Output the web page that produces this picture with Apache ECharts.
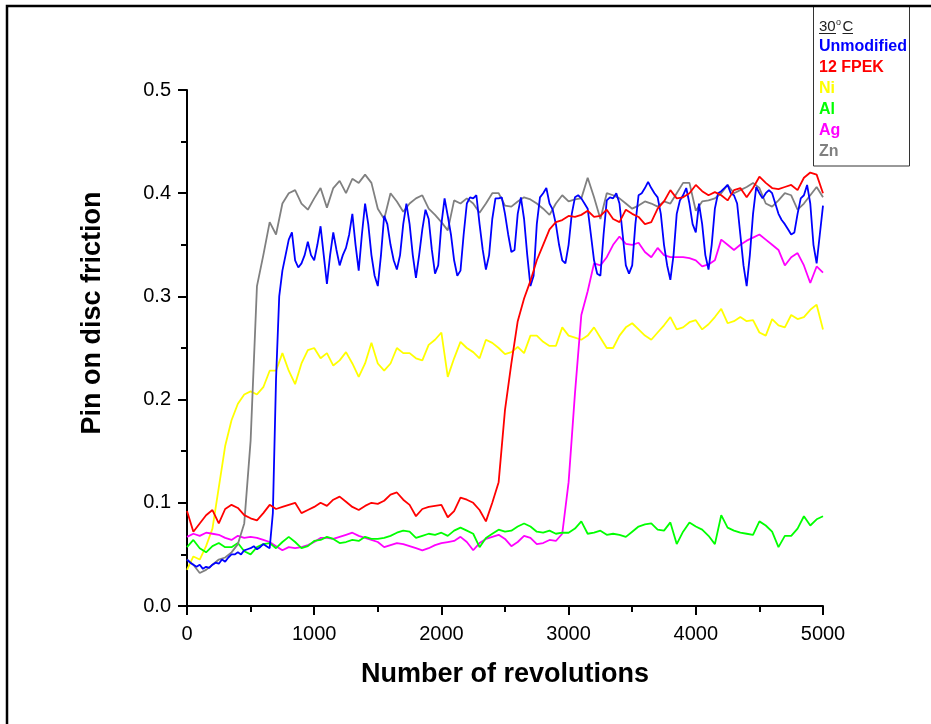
<!DOCTYPE html>
<html>
<head>
<meta charset="utf-8">
<script src="https://cdn.jsdelivr.net/npm/echarts@6/dist/echarts.min.js"></script>
<style>
html,body{margin:0;padding:0;background:#fff;}
#chart{width:931px;height:724px;}
</style>
</head>
<body>
<div id="chart"></div>
<script>
// Sampling grids (revolutions)
const revs25 = []; for (let r = 0; r <= 5000; r += 25) revs25.push(r);
const revs50 = []; for (let r = 0; r <= 5000; r += 50) revs50.push(r);

const xTicks = [0, 1000, 2000, 3000, 4000, 5000];
const yTicks = [0.0, 0.1, 0.2, 0.3, 0.4, 0.5];

// Unmodified (blue), sampled every 25 revolutions
const unmodified = [
 0.045,0.042,0.040,0.038,0.040,0.036,0.038,0.037,0.040,0.042,
 0.041,0.045,0.043,0.047,0.050,0.050,0.052,0.050,0.054,0.055,
 0.056,0.058,0.055,0.057,0.060,0.058,0.056,0.090,0.220,0.300,
 0.325,0.340,0.355,0.362,0.335,0.328,0.332,0.340,0.353,0.340,
 0.335,0.350,0.368,0.340,0.312,0.340,0.362,0.345,0.330,0.340,
 0.347,0.360,0.380,0.350,0.325,0.360,0.390,0.370,0.340,0.320,
 0.310,0.340,0.378,0.370,0.350,0.335,0.326,0.340,0.370,0.390,
 0.370,0.340,0.318,0.340,0.365,0.384,0.375,0.345,0.322,0.330,
 0.370,0.395,0.378,0.360,0.335,0.320,0.325,0.360,0.390,0.396,
 0.395,0.398,0.370,0.345,0.326,0.340,0.375,0.395,0.395,0.396,
 0.380,0.360,0.343,0.345,0.380,0.396,0.375,0.340,0.310,0.320,
 0.370,0.396,0.400,0.405,0.390,0.384,0.370,0.350,0.335,0.332,
 0.350,0.380,0.396,0.398,0.395,0.390,0.385,0.360,0.335,0.322,
 0.320,0.360,0.393,0.396,0.395,0.400,0.390,0.360,0.330,0.322,
 0.330,0.370,0.398,0.400,0.405,0.411,0.405,0.400,0.396,0.380,
 0.350,0.330,0.316,0.340,0.380,0.393,0.398,0.405,0.390,0.370,
 0.362,0.390,0.370,0.340,0.326,0.350,0.385,0.400,0.402,0.405,
 0.408,0.400,0.398,0.390,0.360,0.330,0.310,0.340,0.380,0.406,
 0.400,0.395,0.400,0.403,0.400,0.390,0.380,0.374,0.370,0.365,
 0.360,0.362,0.380,0.395,0.398,0.408,0.390,0.350,0.332,0.360,
 0.388
];

// Remaining series, sampled every 50 revolutions
const fpek12 = [
 0.092,0.072,0.080,0.088,0.093,0.080,0.094,0.098,0.095,0.088,
 0.085,0.083,0.090,0.098,0.094,0.096,0.098,0.100,0.090,0.093,
 0.096,0.100,0.097,0.103,0.106,0.101,0.096,0.093,0.097,0.100,
 0.099,0.102,0.108,0.110,0.103,0.098,0.087,0.094,0.096,0.097,
 0.098,0.086,0.092,0.105,0.103,0.100,0.093,0.082,0.100,0.120,
 0.190,0.235,0.276,0.298,0.315,0.335,0.350,0.365,0.372,0.374,
 0.378,0.377,0.379,0.383,0.377,0.378,0.384,0.375,0.372,0.384,
 0.380,0.377,0.370,0.372,0.385,0.392,0.403,0.395,0.396,0.400,
 0.408,0.402,0.398,0.401,0.398,0.393,0.403,0.405,0.396,0.405,
 0.416,0.410,0.405,0.404,0.406,0.408,0.403,0.415,0.420,0.418,
 0.400
];
const ni = [
 0.035,0.048,0.045,0.058,0.075,0.115,0.155,0.180,0.196,0.205,
 0.208,0.205,0.212,0.228,0.228,0.245,0.228,0.215,0.235,0.248,
 0.250,0.240,0.245,0.233,0.238,0.246,0.235,0.222,0.235,0.255,
 0.235,0.228,0.235,0.250,0.245,0.245,0.240,0.238,0.253,0.258,
 0.265,0.222,0.240,0.256,0.250,0.246,0.240,0.258,0.255,0.250,
 0.244,0.246,0.251,0.245,0.262,0.262,0.256,0.252,0.252,0.270,
 0.262,0.260,0.258,0.262,0.270,0.260,0.250,0.250,0.262,0.270,
 0.274,0.268,0.262,0.258,0.265,0.272,0.280,0.268,0.270,0.275,
 0.277,0.268,0.273,0.280,0.288,0.274,0.276,0.280,0.276,0.277,
 0.265,0.262,0.278,0.272,0.270,0.282,0.278,0.280,0.287,0.292,
 0.268
];
const al = [
 0.057,0.064,0.056,0.052,0.058,0.061,0.057,0.057,0.061,0.053,
 0.050,0.057,0.060,0.061,0.056,0.062,0.067,0.062,0.056,0.058,
 0.063,0.064,0.067,0.065,0.061,0.062,0.064,0.063,0.067,0.065,
 0.065,0.066,0.068,0.071,0.073,0.072,0.066,0.068,0.070,0.069,
 0.071,0.068,0.073,0.076,0.073,0.070,0.057,0.066,0.070,0.074,
 0.072,0.073,0.077,0.080,0.077,0.072,0.071,0.073,0.070,0.071,
 0.071,0.075,0.082,0.070,0.071,0.073,0.069,0.070,0.069,0.067,
 0.072,0.077,0.079,0.080,0.074,0.073,0.081,0.060,0.072,0.081,
 0.077,0.074,0.068,0.060,0.088,0.076,0.073,0.071,0.070,0.069,
 0.082,0.078,0.072,0.057,0.068,0.068,0.075,0.087,0.078,0.084,
 0.087
];
const ag = [
 0.067,0.070,0.068,0.071,0.070,0.069,0.066,0.064,0.068,0.066,
 0.067,0.066,0.064,0.062,0.058,0.054,0.057,0.056,0.057,0.059,
 0.062,0.066,0.066,0.065,0.067,0.069,0.071,0.068,0.066,0.064,
 0.062,0.057,0.059,0.061,0.060,0.058,0.056,0.054,0.056,0.059,
 0.061,0.062,0.063,0.067,0.062,0.054,0.061,0.065,0.067,0.069,
 0.065,0.058,0.062,0.068,0.066,0.060,0.061,0.064,0.063,0.070,
 0.120,0.206,0.282,0.305,0.332,0.330,0.338,0.350,0.358,0.351,
 0.350,0.352,0.343,0.338,0.347,0.340,0.338,0.338,0.338,0.337,
 0.335,0.329,0.331,0.335,0.355,0.350,0.345,0.350,0.354,0.357,
 0.360,0.355,0.350,0.345,0.330,0.338,0.342,0.330,0.313,0.329,
 0.323
];
const zn = [
 0.045,0.040,0.032,0.035,0.040,0.045,0.047,0.052,0.060,0.080,
 0.160,0.310,0.340,0.372,0.360,0.390,0.400,0.403,0.390,0.384,
 0.395,0.405,0.386,0.405,0.412,0.400,0.414,0.410,0.418,0.410,
 0.385,0.375,0.400,0.392,0.382,0.390,0.395,0.398,0.385,0.379,
 0.372,0.364,0.393,0.390,0.395,0.390,0.381,0.390,0.400,0.400,
 0.388,0.387,0.392,0.396,0.394,0.390,0.385,0.379,0.390,0.398,
 0.392,0.394,0.395,0.415,0.396,0.375,0.400,0.398,0.395,0.390,
 0.385,0.388,0.392,0.390,0.387,0.392,0.390,0.400,0.410,0.410,
 0.383,0.392,0.393,0.395,0.400,0.408,0.400,0.403,0.406,0.410,
 0.405,0.390,0.387,0.393,0.400,0.398,0.384,0.390,0.398,0.406,
 0.396
];

const seriesNames = ['Unmodified', '12 FPEK', 'Ni', 'Al', 'Ag', 'Zn'];
const seriesColors = ['#0000FF', '#FF0000', '#FFFF00', '#00FF00', '#FF00FF', '#808080'];
const xTitle = 'Number of revolutions';
const yTitle = 'Pin on disc friction';

function pairs(xs, ys) { return xs.map((x, i) => [x, ys[i]]); }

const FONT = '"Liberation Sans", Arial, sans-serif';
const chart = echarts.init(document.getElementById('chart'), null, {renderer: 'canvas'});

const lineSeries = (name, color, data) => ({
  name, type: 'line', data, showSymbol: false, symbol: 'none', smooth: false,
  lineStyle: {color, width: 1.8}, itemStyle: {color}, animation: false, z: 3
});

const option = {
  backgroundColor: '#fff',
  animation: false,
  grid: {left: 187, top: 90, width: 636, height: 516, containLabel: false},
  xAxis: {
    type: 'value', min: 0, max: 5000, interval: 1000,
    name: xTitle, nameLocation: 'middle', nameGap: 55,
    nameTextStyle: {fontSize: 27, fontWeight: 'bold', color: '#000', fontFamily: FONT},
    axisLine: {show: true, onZero: false, lineStyle: {color: '#000', width: 2}},
    axisTick: {show: true, inside: false, length: 9, lineStyle: {color: '#000', width: 2}},
    minorTick: {show: true, splitNumber: 2, length: 6, lineStyle: {color: '#000', width: 2}},
    splitLine: {show: false},
    axisLabel: {fontSize: 20, color: '#000', fontFamily: FONT, margin: 18,
      formatter: v => xTicks.includes(v) ? String(v) : ''}
  },
  yAxis: {
    type: 'value', min: 0, max: 0.5, interval: 0.1,
    axisLine: {show: true, onZero: false, lineStyle: {color: '#000', width: 2}},
    axisTick: {show: true, inside: false, length: 9, lineStyle: {color: '#000', width: 2}},
    minorTick: {show: true, splitNumber: 2, length: 6, lineStyle: {color: '#000', width: 2}},
    splitLine: {show: false},
    axisLabel: {fontSize: 20, color: '#000', fontFamily: FONT, margin: 16,
      formatter: v => {
        const t = yTicks.find(k => Math.abs(k - v) < 1e-9);
        return t === undefined ? '' : t.toFixed(1);
      }}
  },
  series: [
    lineSeries(seriesNames[2], seriesColors[2], pairs(revs50, ni)),
    lineSeries(seriesNames[4], seriesColors[4], pairs(revs50, ag)),
    lineSeries(seriesNames[3], seriesColors[3], pairs(revs50, al)),
    lineSeries(seriesNames[5], seriesColors[5], pairs(revs50, zn)),
    lineSeries(seriesNames[0], seriesColors[0], pairs(revs25, unmodified)),
    lineSeries(seriesNames[1], seriesColors[1], pairs(revs50, fpek12))
  ],
  graphic: {
    elements: [
      // y-axis title
      {type: 'text', z: 11, x: 93, y: 313, rotation: Math.PI / 2,
        style: {text: yTitle, x: 0, y: 0, align: 'center', verticalAlign: 'middle',
          font: 'bold 27px ' + FONT, fill: '#000'}},
      // outer frame (left and top edges)
      {type: 'polyline', silent: true, z: 10,
        shape: {points: [[7, 724], [7, 6], [931, 6]]},
        style: {stroke: '#000', lineWidth: 2.5, fill: null}},
      // legend box
      {type: 'rect', silent: true, z: 9,
        shape: {x: 813.5, y: 6, width: 96, height: 160},
        style: {stroke: '#333', lineWidth: 1, fill: '#fff'}},
      {type: 'text', z: 11, style: {text: '30', x: 819, y: 26.8, verticalAlign: 'middle',
        font: '15px ' + FONT, fill: '#222'}},
      {type: 'text', z: 11, style: {text: 'o', x: 836, y: 22.5, verticalAlign: 'middle',
        font: '9px ' + FONT, fill: '#222'}},
      {type: 'text', z: 11, style: {text: 'C', x: 842.5, y: 26.8, verticalAlign: 'middle',
        font: '15px ' + FONT, fill: '#222'}},
      {type: 'line', z: 11, shape: {x1: 819, y1: 33.5, x2: 836, y2: 33.5},
        style: {stroke: '#222', lineWidth: 1}},
      {type: 'line', z: 11, shape: {x1: 842.5, y1: 33.5, x2: 853, y2: 33.5},
        style: {stroke: '#222', lineWidth: 1}},
      ...seriesNames.map((n, i) => ({
        type: 'text', z: 11,
        style: {text: n, x: 819, y: [51.7, 72.7, 94, 115, 136.5, 157][i] - 5.5,
          verticalAlign: 'middle', font: 'bold 16px ' + FONT, fill: seriesColors[i]}
      }))
    ]
  }
};
chart.setOption(option);
</script>
</body>
</html>
